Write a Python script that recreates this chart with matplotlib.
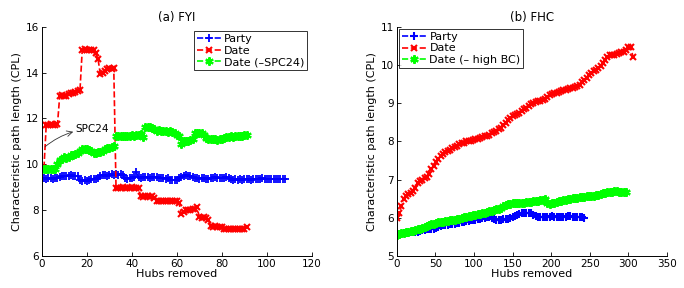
import numpy as np
import matplotlib
matplotlib.use("Agg")
import matplotlib.pyplot as plt

# ---------------- (a) FYI ----------------
fyi_party = [9.40, 9.40, 9.38, 9.42, 9.40, 9.38, 9.41, 9.40,
             9.45, 9.47, 9.50, 9.48, 9.50, 9.52, 9.50, 9.48, 9.50,
             9.30, 9.28, 9.30, 9.27, 9.30,
             9.35, 9.38, 9.36, 9.40,
             9.50, 9.52, 9.55, 9.50, 9.55, 9.58, 9.55, 9.60, 9.55, 9.58, 9.52,
             9.40, 9.38, 9.42, 9.40, 9.45,
             9.65,
             9.45, 9.42, 9.45, 9.43, 9.45, 9.42, 9.44, 9.45, 9.43, 9.40, 9.42, 9.40, 9.38, 9.40,
             9.32, 9.30, 9.33, 9.30,
             9.42, 9.45, 9.50, 9.52, 9.48, 9.50, 9.45,
             9.42, 9.40, 9.38, 9.40, 9.42, 9.38, 9.35,
             9.40, 9.42, 9.45, 9.40, 9.42, 9.40, 9.42, 9.45, 9.40,
             9.35, 9.33, 9.35, 9.32, 9.35, 9.33, 9.35, 9.36, 9.35, 9.32,
             9.35, 9.38, 9.35, 9.36, 9.40, 9.38, 9.35, 9.37, 9.35, 9.38,
             9.36, 9.35, 9.38, 9.36, 9.35]

fyi_date = [9.85,
            11.72, 11.70, 11.75, 11.70, 11.72, 11.75,
            13.00, 13.02, 12.98, 13.00, 13.05,
            13.10, 13.12, 13.15, 13.18, 13.25,
            15.00, 15.02, 15.00, 14.98, 15.00, 14.98,
            14.85, 14.60,
            13.95, 14.00, 14.05,
            14.15, 14.20, 14.18, 14.20,
            8.98, 8.95, 8.98, 9.00, 8.97, 8.98, 8.95, 9.00, 8.98, 8.97, 8.98,
            8.60, 8.58, 8.60, 8.62, 8.58, 8.60, 8.55,
            8.42, 8.40, 8.42, 8.40, 8.42, 8.38, 8.40, 8.42, 8.40, 8.38,
            8.30,
            7.85, 7.90,
            8.00, 8.02, 8.00, 8.05, 8.05,
            8.12,
            7.70, 7.68, 7.70, 7.65,
            7.55,
            7.30, 7.28, 7.30, 7.27, 7.25, 7.28,
            7.20, 7.18, 7.20, 7.18, 7.20, 7.18, 7.20, 7.18, 7.20, 7.18,
            7.28]

fyi_date_nospc = [9.78, 9.80, 9.78, 9.80, 9.78, 9.80,
                  10.00, 10.20, 10.25, 10.30, 10.28, 10.32,
                  10.40, 10.42, 10.45, 10.50,
                  10.60, 10.65, 10.68, 10.65, 10.62, 10.60,
                  10.50, 10.48, 10.52, 10.55, 10.58,
                  10.65, 10.70, 10.72, 10.75, 10.80,
                  11.25, 11.22, 11.25, 11.23, 11.25, 11.22, 11.25, 11.27, 11.25, 11.28, 11.30,
                  11.32, 11.20,
                  11.62, 11.65, 11.62, 11.60, 11.55,
                  11.45, 11.48, 11.45, 11.47, 11.45, 11.42, 11.45, 11.40,
                  11.35, 11.30, 11.25,
                  10.90,
                  11.00, 11.02, 11.00, 11.05, 11.10,
                  11.35, 11.38, 11.35, 11.38, 11.30,
                  11.15, 11.12, 11.10, 11.12, 11.10, 11.08, 11.10, 11.12, 11.15, 11.18,
                  11.20, 11.22, 11.20, 11.22, 11.25, 11.22, 11.25, 11.28, 11.30]

# ---------------- (b) FHC (sampled every 3 hubs) ----------------
fhc_step = 3
fhc_party = [5.55, 5.57, 5.58, 5.59, 5.60, 5.61, 5.62, 5.62, 5.62, 5.63,
             5.65, 5.67, 5.69, 5.70, 5.71, 5.72, 5.72, 5.73, 5.76, 5.79,
             5.80, 5.81, 5.82, 5.83, 5.84, 5.85, 5.86, 5.87, 5.89, 5.90,
             5.91, 5.92, 5.93, 5.94, 5.95, 5.96, 5.98, 5.99, 6.00, 6.01,
             6.02, 6.00, 5.96, 5.95, 5.95, 5.94, 5.96, 5.96, 5.97, 6.00,
             6.03, 6.06, 6.08, 6.10, 6.12, 6.13, 6.13, 6.12, 6.12, 6.08,
             6.04, 6.03, 6.03, 6.03, 6.02, 6.03, 6.03, 6.04, 6.03, 6.03,
             6.03, 6.02, 6.03, 6.03, 6.04, 6.04, 6.03, 6.03, 6.02, 6.02,
             6.01, 6.00]

fhc_date = [6.00, 6.12, 6.30, 6.50, 6.58, 6.63, 6.66, 6.70, 6.78, 6.90,
            6.96, 7.00, 7.04, 7.08, 7.16, 7.27, 7.36, 7.45, 7.55, 7.62,
            7.66, 7.72, 7.76, 7.78, 7.82, 7.85, 7.88, 7.92, 7.95, 7.97,
            8.00, 8.01, 8.02, 8.03, 8.05, 8.07, 8.08, 8.11, 8.13, 8.15,
            8.18, 8.21, 8.25, 8.28, 8.32, 8.36, 8.42, 8.48, 8.56, 8.62,
            8.67, 8.69, 8.72, 8.75, 8.79, 8.84, 8.88, 8.93, 8.97, 9.00,
            9.03, 9.05, 9.07, 9.09, 9.12, 9.17, 9.21, 9.24, 9.26, 9.28,
            9.30, 9.32, 9.34, 9.35, 9.37, 9.39, 9.41, 9.42, 9.44, 9.47,
            9.55, 9.61, 9.67, 9.74, 9.79, 9.83, 9.87, 9.92, 9.98, 10.05,
            10.14, 10.22, 10.25, 10.26, 10.27, 10.29, 10.31, 10.33, 10.35, 10.38,
            10.46, 10.48, 10.22]

fhc_date_nobc = [5.55, 5.57, 5.59, 5.61, 5.62, 5.63, 5.65, 5.66, 5.68, 5.70,
                 5.72, 5.74, 5.76, 5.78, 5.80, 5.83, 5.85, 5.87, 5.88, 5.89,
                 5.90, 5.91, 5.92, 5.93, 5.94, 5.95, 5.97, 5.98, 6.00, 6.01,
                 6.02, 6.04, 6.05, 6.07, 6.08, 6.10, 6.11, 6.12, 6.13, 6.15,
                 6.17, 6.18, 6.20, 6.22, 6.24, 6.26, 6.30, 6.34, 6.36, 6.37,
                 6.38, 6.38, 6.38, 6.39, 6.40, 6.40, 6.41, 6.42, 6.42, 6.43,
                 6.44, 6.45, 6.46, 6.47, 6.48, 6.38, 6.37, 6.38, 6.40, 6.42,
                 6.44, 6.45, 6.46, 6.47, 6.48, 6.50, 6.51, 6.52, 6.53, 6.54,
                 6.55, 6.55, 6.56, 6.56, 6.57, 6.58, 6.59, 6.61, 6.63, 6.65,
                 6.66, 6.67, 6.68, 6.68, 6.69, 6.69, 6.68, 6.68, 6.68, 6.67]

labels_a = ["Party", "Date", "Date (\u2013SPC24)"]
labels_b = ["Party", "Date", "Date (\u2013 high BC)"]

BLUE, RED, GREEN = (0, 0, 1), (1, 0, 0), (0, 1, 0)

plt.rcParams['font.family'] = ['DejaVu Sans']
fig = plt.figure(figsize=(6.84, 2.88), dpi=100)
ax1 = fig.add_axes([0.061, 0.111, 0.395, 0.796])
ax2 = fig.add_axes([0.580, 0.111, 0.395, 0.796])


def style(ax):
    ax.tick_params(direction='in', labelsize=7.5, length=3, width=0.6, pad=2)
    ax.spines['top'].set_visible(False)
    ax.spines['right'].set_visible(False)
    for s in ax.spines.values():
        s.set_linewidth(0.7)
    ax.set_xlabel("Hubs removed", fontsize=8, labelpad=0)
    ax.set_ylabel("Characteristic path length (CPL)", fontsize=8, labelpad=3)


# (a)
xa_party = np.arange(len(fyi_party))
xa_date = np.arange(1, len(fyi_date) + 1)
xa_green = np.arange(1, len(fyi_date_nospc) + 1)
ax1.plot(xa_party, fyi_party, ls='--', color=BLUE, marker='+', ms=6, mew=1.3, lw=1.2,
         label=labels_a[0])
ax1.plot(xa_date, fyi_date, ls='--', color=RED, marker='x', ms=5, mew=1.5, lw=1.2,
         label=labels_a[1])
ax1.plot(xa_green, fyi_date_nospc, ls='--', color=GREEN, marker=(6, 2, 0), ms=6, mew=1.5,
         lw=1.2, label=labels_a[2])
ax1.set_xlim(0, 120)
ax1.set_ylim(6, 16)
ax1.set_xticks(np.arange(0, 121, 20))
ax1.set_yticks(np.arange(6, 17, 2))
ax1.set_title("(a) FYI", fontsize=8.5, pad=4)
style(ax1)
ax1.annotate("", xy=(14, 11.42), xytext=(1.5, 10.77),
             arrowprops=dict(arrowstyle='->', color='#333333', lw=0.6,
                             connectionstyle='arc3,rad=-0.1', shrinkA=0, shrinkB=0))
ax1.text(14.8, 11.52, "SPC24", fontsize=7.5, va='center', ha='left')
leg1 = ax1.legend(loc='upper right', fontsize=8, frameon=True, fancybox=False,
                  edgecolor='black', handlelength=2.2, borderpad=0.25,
                  labelspacing=0.15, handletextpad=0.3, borderaxespad=0.4)
leg1.get_frame().set_linewidth(0.7)

# (b)
xb_party = np.arange(len(fhc_party)) * fhc_step
xb_date = np.arange(len(fhc_date)) * fhc_step
xb_green = np.arange(len(fhc_date_nobc)) * fhc_step
ax2.plot(xb_party, fhc_party, ls='--', color=BLUE, marker='+', ms=6, mew=1.5, lw=1.2,
         label=labels_b[0])
ax2.plot(xb_date, fhc_date, ls='--', color=RED, marker='x', ms=5, mew=1.5, lw=1.2,
         label=labels_b[1])
ax2.plot(xb_green, fhc_date_nobc, ls='--', color=GREEN, marker=(6, 2, 0), ms=6, mew=1.6,
         lw=1.2, label=labels_b[2])
ax2.set_xlim(0, 350)
ax2.set_ylim(5, 11)
ax2.set_xticks(np.arange(0, 351, 50))
ax2.set_yticks(np.arange(5, 12, 1))
ax2.set_title("(b) FHC", fontsize=8.5, pad=4)
style(ax2)
leg2 = ax2.legend(loc='upper left', fontsize=8, frameon=True, fancybox=False,
                  edgecolor='black', handlelength=2.2, borderpad=0.25,
                  labelspacing=0.15, handletextpad=0.3, borderaxespad=0.2)
leg2.get_frame().set_linewidth(0.7)

fig.savefig("out.png", dpi=100)
